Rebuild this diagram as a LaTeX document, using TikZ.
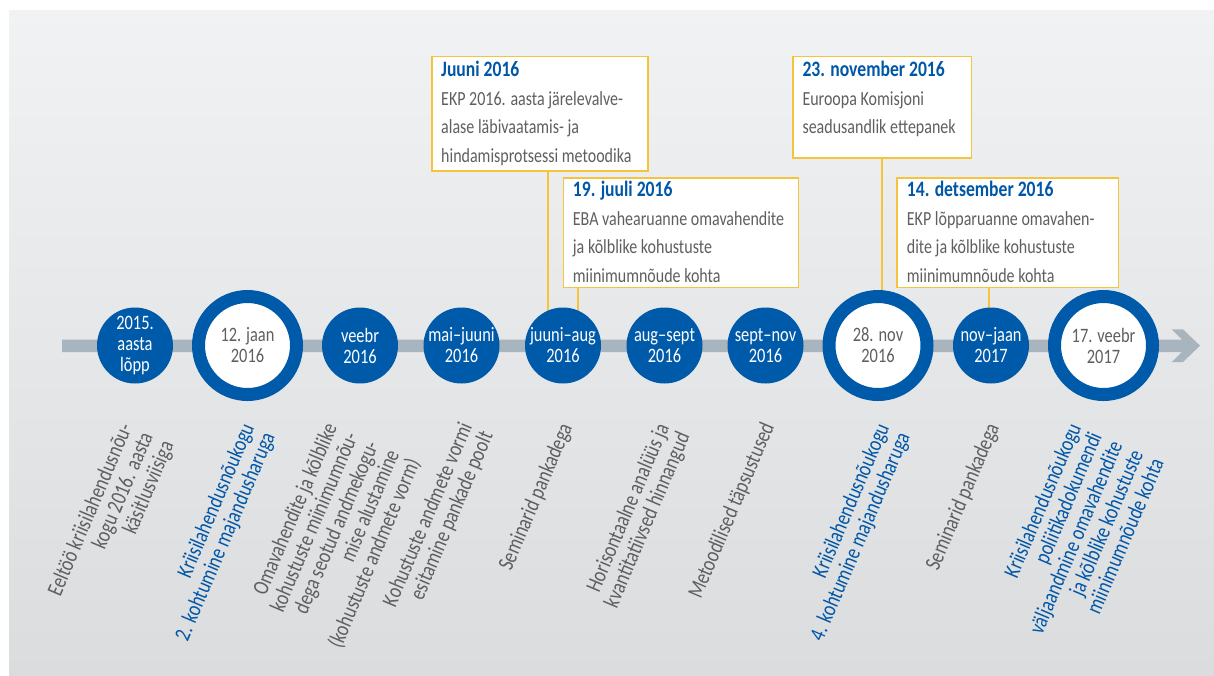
\documentclass[tikz,border=0pt]{standalone}
\usepackage{fontspec}
\setmainfont{Carlito}[FakeStretch=0.8]
\usetikzlibrary{calc}
\definecolor{ecbblue}{RGB}{0,90,170}
\definecolor{titleblue}{RGB}{0,87,168}
\definecolor{bargray}{RGB}{168,181,191}
\definecolor{ecbyellow}{RGB}{246,196,60}
\definecolor{txtgray}{RGB}{95,95,95}
\definecolor{bgtop}{RGB}{241,242,244}
\definecolor{bgbot}{RGB}{219,220,222}
\newcommand{\boxtitle}[1]{\rule{0pt}{16pt}{\fontsize{22}{28.5}\selectfont\bfseries\color{titleblue}#1}}
\begin{document}
\begin{tikzpicture}[x=1pt,y=-1pt,
  boxframe/.style={draw=ecbyellow, line width=1.6pt, fill=white, inner sep=0pt, anchor=north west},
  boxtext/.style={anchor=north west, align=left, inner sep=0pt, font=\fontsize{20}{28.5}\selectfont, text=txtgray},
  smallc/.style={circle, fill=ecbblue, minimum size=76pt, inner sep=0pt, align=center, text=white, font=\fontsize{20.5}{21}\selectfont},
  bigc/.style={circle, fill=white, draw=ecbblue, line width=13pt, minimum size=98pt, inner sep=0pt, align=center, text=txtgray, font=\fontsize{20.5}{21}\selectfont},
  rot/.style={rotate=67, anchor=north east, align=right, inner sep=0pt, font=\fontsize{22.5}{22.5}\selectfont, text=txtgray},
  rotblue/.style={rot, text=titleblue},
  conn/.style={draw=ecbyellow, line width=1.8pt}]
\useasboundingbox (0,0) rectangle (1214,675);
\shade[top color=bgtop, bottom color=bgbot] (9,10) rectangle (1214,675);
% timeline bar with chevron head
\fill[bargray] (62,339.5) -- (1182,339.5) -- (1171.7,329.3) -- (1183,329.3) -- (1200,345.7) -- (1183,362) -- (1171.7,362) -- (1182,352) -- (62,352) -- cycle;
% boxes
\node[boxframe, minimum width=216pt, minimum height=114.3pt] (b1) at (431,55.7) {};
\node[boxframe, minimum width=235pt, minimum height=109.7pt] (b2) at (562.7,177) {};
\node[boxframe, minimum width=178.7pt, minimum height=101.3pt] (b3) at (792,55.7) {};
\node[boxframe, minimum width=221.7pt, minimum height=109.7pt] (b4) at (896,177) {};
% circle positions
\coordinate (p1) at (135,345.5);
\coordinate (p2) at (247.5,345.5);
\coordinate (p3) at (360,345.5);
\coordinate (p4) at (461.5,345.5);
\coordinate (p5) at (563,345.5);
\coordinate (p6) at (664.5,345.5);
\coordinate (p7) at (765.5,345.5);
\coordinate (p8) at (878,345.5);
\coordinate (p9) at (991,345.5);
\coordinate (p10) at (1103.5,345.5);
% connector x positions
\coordinate (k1) at (547.7,0);
\coordinate (k2) at (577.7,0);
\coordinate (k3) at (881.7,0);
\coordinate (k4) at (989,0);
\draw[conn] (k1 |- b1.south) -- (k1 |- p5);
\draw[conn] (k2 |- b2.south) -- (k2 |- p5);
\draw[conn] (k3 |- b3.south) -- (k3 |- p8);
\draw[conn] (k4 |- b4.south) -- (k4 |- p9);
% circles
\node[smallc] (c1) at (p1) {2015.\\aasta\\lõpp};
\node[bigc] (c2) at (p2) {12. jaan\\2016};
\node[smallc] (c3) at (p3) {veebr\\2016};
\node[smallc] (c4) at (p4) {mai–juuni\\2016};
\node[smallc] (c5) at (p5) {juuni–aug\\2016};
\node[smallc] (c6) at (p6) {aug–sept\\2016};
\node[smallc] (c7) at (p7) {sept–nov\\2016};
\node[bigc] (c8) at (p8) {28. nov\\2016};
\node[smallc] (c9) at (p9) {nov–jaan\\2017};
\node[bigc] (c10) at (p10) {17. veebr\\2017};
% box texts
\node[boxtext] (t1) at (441,60.7) {\boxtitle{Juuni 2016}\\EKP 2016. aasta järelevalve-\\alase läbivaatamis- ja\\hindamisprotsessi metoodika};
\node[boxtext] (t2) at (572.7,180.7) {\boxtitle{19. juuli 2016}\\EBA vahearuanne omavahendite\\ja kõlblike kohustuste\\miinimumnõude kohta};
\node[boxtext] (t3) at (802.3,60.7) {\boxtitle{23. november 2016}\\Euroopa Komisjoni\\seadusandlik ettepanek};
\node[boxtext] (t4) at (906.7,180.7) {\boxtitle{14. detsember 2016}\\EKP lõpparuanne omavahen-\\dite ja kõlblike kohustuste\\miinimumnõude kohta};
% rotated texts
\node[rot] (r1) at (118,421) {Eeltöö kriisilahendusnõu-\\kogu 2016. aasta\\käsitlusviisiga};
\node[rotblue] (r2) at (240,421) {Kriisilahendusnõukogu\\2. kohtumine majandusharuga};
\node[rot] (r3) at (323,421) {Omavahendite ja kõlblike\\kohustuste miinimumnõu-\\dega seotud andmekogu-\\mise alustamine\\(kohustuste andmete vorm)};
\node[rot] (r4) at (458,420) {Kohustuste andmete vormi\\esitamine pankade poolt};
\node[rot] (r5) at (558,421) {Seminarid pankadega};
\node[rot] (r6) at (655,421) {Horisontaalne analüüs ja\\kvantitatiivsed hinnangud};
\node[rot] (r7) at (760,420) {Metoodilised täpsustused};
\node[rotblue] (r8) at (875,421) {Kriisilahendusnõukogu\\4. kohtumine majandusharuga};
\node[rot] (r9) at (985,421) {Seminarid pankadega};
\node[rotblue] (r10) at (1067,421) {Kriisilahendusnõukogu\\poliitikadokumendi\\väljaandmine omavahendite\\ja kõlblike kohustuste\\miinimumnõude kohta};
\end{tikzpicture}
\end{document}
